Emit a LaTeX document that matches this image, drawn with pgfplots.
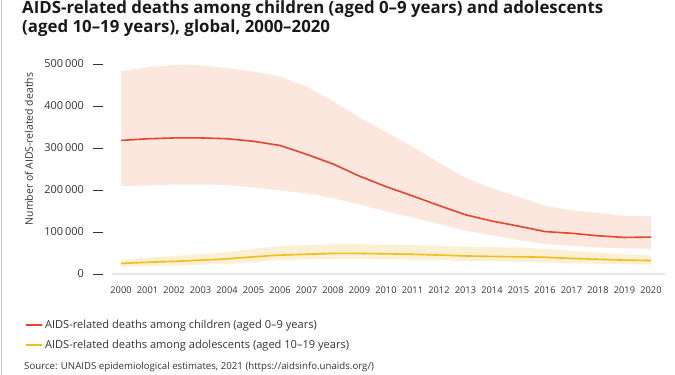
\documentclass[border=0pt]{standalone}
\usepackage{pgfplots}
\pgfplotsset{compat=1.18}
\usepackage{pgfplotstable}
\usepgfplotslibrary{fillbetween}
\usepackage{fontspec}
\setmainfont{Open Sans}
\definecolor{redline}{HTML}{E5452A}
\definecolor{redband}{HTML}{FCE7DF}
\definecolor{yelline}{HTML}{F0BE1A}
\definecolor{yelband}{HTML}{FBF0D3}
\definecolor{txt}{HTML}{333333}
\pgfplotstableread{
year cm cl cu am al au
2000 318000 209000 483000 25000 17000 34000
2001 322000 211000 492000 28000 19000 39000
2002 324000 213000 498000 30000 20000 43000
2003 324000 213000 497000 33000 22000 47000
2004 322000 212000 490000 36000 24000 52000
2005 316000 206000 482000 41000 28000 60000
2006 306000 199000 470000 45000 33000 66000
2007 285000 192000 446000 47000 35000 69000
2008 262000 181000 412000 49000 36000 71000
2009 233000 165000 372000 49000 36000 71000
2010 208000 149000 338000 48000 35000 70000
2011 186000 135000 303000 47000 34000 69000
2012 163000 119000 265000 45000 33000 67000
2013 141000 103000 229000 43000 31000 65000
2014 126000 92000 204000 42000 30000 64000
2015 114000 81000 184000 41000 29000 63000
2016 101000 71000 162000 40000 27000 60000
2017 97000 67000 152000 37000 26000 55000
2018 91000 63000 145000 35000 24000 51000
2019 87000 61000 139000 33000 23000 47000
2020 88000 60000 137000 32000 22000 44000
}\data
\begin{document}
\begin{tikzpicture}
\draw[black!22, line width=1.2bp] (1.5bp,0) -- (1.5bp,-375bp);
\node[anchor=base west, inner sep=0, text=black!90, font={\bfseries\fontsize{16.9}{19}\selectfont}] at (22bp,-13bp) {AIDS-related deaths among children (aged 0–9 years) and adolescents};
\node[anchor=base west, inner sep=0, text=black!90, font={\bfseries\fontsize{16.9}{19}\selectfont}] at (22bp,-32.5bp) {(aged 10–19 years), global, 2000–2020};
\begin{axis}[
  at={(103bp,-274bp)}, anchor=south west,
  scale only axis, width=562bp, height=210bp,
  xmin=1999.32, xmax=2020.53, ymin=0, ymax=500000,
  clip=false,
  axis lines=left,
  x axis line style={draw=none}, y axis line style={draw=none},
  xtick={2000,2001,...,2020},
  xticklabels={2000,2001,2002,2003,2004,2005,2006,2007,2008,2009,2010,2011,2012,2013,2014,2015,2016,2017,2018,2019,2020},
  ytick={0,100000,200000,300000,400000,500000},
  yticklabels={0,100\,000,200\,000,300\,000,400\,000,500\,000},
  scaled y ticks=false,
  xtick align=inside,
  ytick align=outside,
  major tick length=10bp,
  xtick style={draw=none},
  ytick style={draw=txt, line width=1bp},
  yticklabel style={font=\fontsize{11}{12}\selectfont, text=txt, inner sep=0pt, xshift=-9bp},
  xticklabel style={font=\fontsize{9.3}{11}\selectfont, text=txt, yshift=-9bp},
  ylabel={Number of AIDS-related deaths},
  ylabel style={at={(axis description cs:-0.1317,0.595)}, anchor=center, font=\fontsize{10.5}{12}\selectfont, text=txt},
  legend style={at={(axis description cs:-0.139,-0.21)}, anchor=north west, draw=none, fill=none, font=\fontsize{11.1}{13}\selectfont, text=txt, row sep=5.5bp, inner sep=0pt, nodes={inner sep=2pt}},
  legend cell align=left,
  legend image code/.code={\draw[#1, line width=2bp] (0bp,0bp) -- (16bp,0bp);},
]
\draw[black!10, line width=1.6bp] (axis cs:1999.66,0) -- (axis cs:2020.53,0);
\addplot[name path=cu, draw=none, forget plot] table[x=year, y=cu] {\data};
\addplot[name path=cl, draw=none, forget plot] table[x=year, y=cl] {\data};
\addplot[redband, forget plot] fill between[of=cu and cl];
\addplot[name path=au, draw=none, forget plot] table[x=year, y=au] {\data};
\addplot[name path=al, draw=none, forget plot] table[x=year, y=al] {\data};
\addplot[yelband, forget plot] fill between[of=au and al];
\addplot[redline, line width=1.6bp, no marks] table[x=year, y=cm] {\data};
\addlegendentry{AIDS-related deaths among children (aged 0–9 years)}
\addplot[yelline, line width=1.6bp, no marks] table[x=year, y=am] {\data};
\addlegendentry{AIDS-related deaths among adolescents (aged 10–19 years)}
\end{axis}
\node[anchor=north west, inner sep=0, text=txt, font=\fontsize{9.7}{11}\selectfont] at (24bp,-362bp) {Source: UNAIDS epidemiological estimates, 2021 (https://aidsinfo.unaids.org/)};
\pgfresetboundingbox
\path[use as bounding box] (0,0) rectangle (675bp,-375bp);
\end{tikzpicture}
\end{document}
